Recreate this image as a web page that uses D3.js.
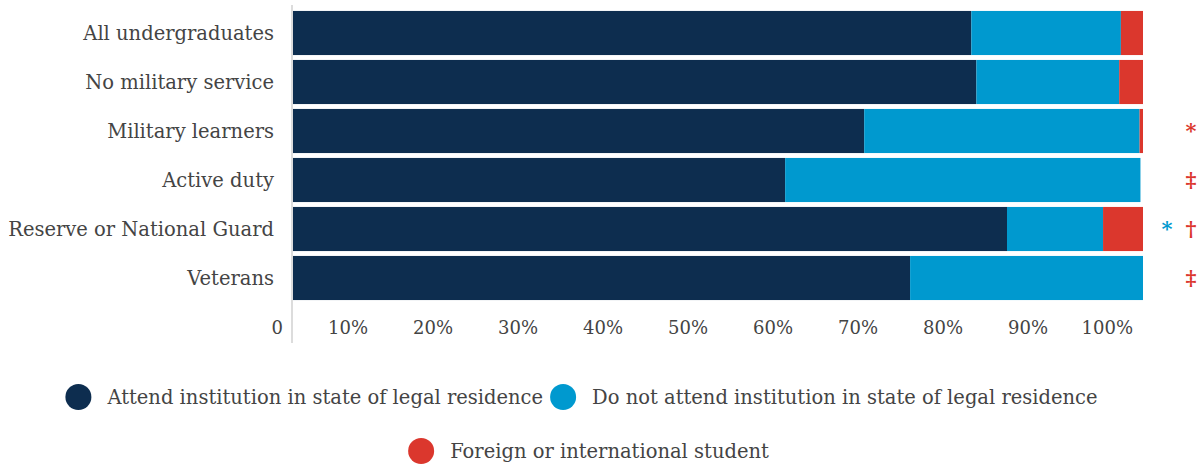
<!DOCTYPE html>
<html>
<head>
<meta charset="utf-8">
<script src="https://cdn.jsdelivr.net/npm/d3@7"></script>
<style>
  body { margin: 0; background: #fff; }
  svg text { font-family: "DejaVu Serif", serif; fill: #444; }
</style>
</head>
<body>
<div id="chart"></div>
<script>
// Residence status of undergraduates, by military status (percent)
var categories = ["All undergraduates", "No military service", "Military learners",
                  "Active duty", "Reserve or National Guard", "Veterans"];
var seriesNames = ["Attend institution in state of legal residence",
                   "Do not attend institution in state of legal residence",
                   "Foreign or international student"];
var inState    = [79.8, 80.4, 67.2, 57.9, 84.0, 72.6];
var outOfState = [17.6, 16.8, 32.4, 41.8, 11.3, 27.4];
var foreign    = [2.6, 2.8, 0.4, 0, 4.7, 0];
var tickValues = [0, 10, 20, 30, 40, 50, 60, 70, 80, 90, 100];
// footnote marks: category, series index, symbol
var notes = [
  {cat: "Military learners", series: 2, mark: "*"},
  {cat: "Active duty", series: 2, mark: "‡"},
  {cat: "Reserve or National Guard", series: 1, mark: "*"},
  {cat: "Reserve or National Guard", series: 2, mark: "†"},
  {cat: "Veterans", series: 2, mark: "‡"}
];

var colors = ["#0d2d4f", "#0099cf", "#db372d"];
var width = 1200, height = 466;

var svg = d3.select("#chart").append("svg")
  .attr("width", width)
  .attr("height", height);

var x = d3.scaleLinear().domain([0, 100]).range([293, 1143]);
var y = d3.scaleBand().domain(categories)
  .range([8.5, 302.5]).paddingInner(0.1).paddingOuter(0.05);

var rows = categories.map(function(c, i){
  return {cat: c, s0: inState[i], s1: outOfState[i], s2: foreign[i]};
});
var stacked = d3.stack().keys(["s0", "s1", "s2"])(rows);

//bars
svg.append("g").selectAll("g")
  .data(stacked)
  .enter().append("g")
    .attr("fill", function(d, i){ return colors[i]; })
  .selectAll("rect")
  .data(function(d){ return d; })
  .enter().append("rect")
    .attr("x", function(d){ return x(d[0]); })
    .attr("y", function(d){ return y(d.data.cat); })
    .attr("width", function(d){ return x(d[1]) - x(d[0]); })
    .attr("height", y.bandwidth());

//axis line
svg.append("line")
  .attr("x1", 292).attr("x2", 292)
  .attr("y1", 5).attr("y2", 343)
  .attr("stroke", "#dcdcdc")
  .attr("stroke-width", 2);

//category labels
svg.append("g").selectAll("text")
  .data(categories)
  .enter().append("text")
    .attr("x", 274)
    .attr("y", function(d){ return y(d) + y.bandwidth() / 2; })
    .attr("dy", "0.35em")
    .attr("text-anchor", "end")
    .style("font-size", "19.5px")
    .text(function(d){ return d; });

//tick labels
svg.append("g").selectAll("text")
  .data(tickValues)
  .enter().append("text")
    .attr("x", function(d){ return x(d) - 10; })
    .attr("y", 328)
    .attr("dy", "0.35em")
    .attr("text-anchor", "end")
    .style("font-size", "18px")
    .text(function(d){ return d === 0 ? "0" : d + "%"; });

//footnote marks
var markX = [null, 1167, 1191];
svg.append("g").selectAll("text")
  .data(notes)
  .enter().append("text")
    .attr("x", function(d){ return markX[d.series]; })
    .attr("y", function(d){ return y(d.cat) + y.bandwidth() / 2; })
    .attr("dy", "0.35em")
    .attr("text-anchor", "middle")
    .style("font-size", "21px")
    .style("font-weight", "bold")
    .style("fill", function(d){ return colors[d.series]; })
    .text(function(d){ return d.mark; });

//legend
var legendRows = [[0, 1], [2]];
var legendY = [397, 451];
var legendCenter = [575, 582];
legendRows.forEach(function(r, ri){
  var g = svg.append("g");
  var items = g.selectAll("g").data(r).enter().append("g");
  items.append("circle")
    .attr("r", 13)
    .attr("cy", legendY[ri])
    .attr("fill", function(d){ return colors[d]; });
  items.append("text")
    .attr("y", legendY[ri])
    .attr("dy", "0.35em")
    .style("font-size", "19.5px")
    .text(function(d){ return seriesNames[d]; });
  var pos = 0, offsets = [];
  items.each(function(){
    var w = d3.select(this).select("text").node().getComputedTextLength();
    offsets.push(pos);
    pos += 13 + 16 + w + 20;
  });
  var total = pos - 20;
  var start = legendCenter[ri] - total / 2;
  items.each(function(d, i){
    var item = d3.select(this);
    item.select("circle").attr("cx", start + offsets[i] + 13);
    item.select("text").attr("x", start + offsets[i] + 42);
  });
});
</script>
</body>
</html>
